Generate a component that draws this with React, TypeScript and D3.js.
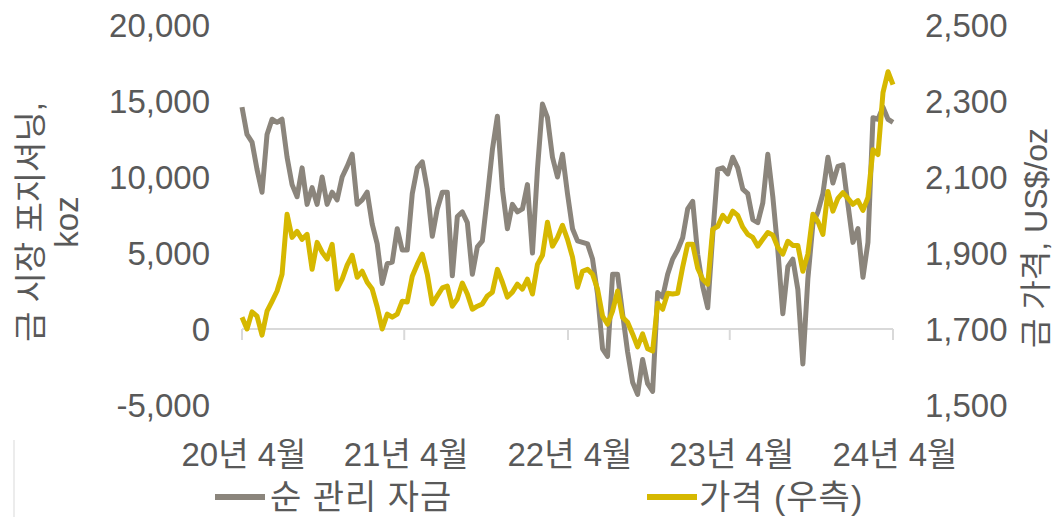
import React from 'react'
import * as d3 from 'd3'

// 순 관리 자금 (koz), 2020.04 ~ 2024.04, 일정 간격
const netManaged = [
  14600, 12800, 12300, 10500, 9000, 12800, 13800, 13600, 13800, 11300,
  9500, 8700, 10600, 8200, 9300, 8200, 10000, 8200, 9000, 8500,
  10000, 10700, 11500, 8200, 8500, 9000, 6900, 5600, 3000, 4300,
  4400, 6600, 5200, 5200, 8900, 10600, 11000, 9200, 6100, 7900,
  9000, 9000, 3500, 7400, 7700, 7000, 3600, 5400, 5800, 8700,
  11800, 14000, 9200, 6600, 8200, 7700, 7900, 9500, 5000, 10500,
  14800, 13900, 11300, 10000, 11500, 8900, 6600, 5800, 5700, 5600,
  4600, 2300, -1300, -1800, 3600, 3600, 1000, -1500, -3500, -4300,
  -2000, -3600, -4100, 2400, 2100, 3600, 4600, 5200, 6000, 7900,
  8400, 4900, 2800, 1400, 6200, 10500, 10600, 10200, 11300, 10600,
  9200, 8900, 7200, 7000, 8300, 11500, 8700, 5200, 1000, 4100,
  4600, 2600, -2300, 3300, 6900, 7700, 8900, 11300, 9600, 10700,
  10800, 8200, 5700, 6600, 3400, 5700, 13900, 13800, 14600, 13800,
  13600,
]

// 가격 (US$/oz, 우측)
const goldPrice = [
  1731, 1700, 1745, 1734, 1684, 1747, 1773, 1800, 1844, 2002,
  1941, 1957, 1936, 1949, 1857, 1928, 1902, 1884, 1923, 1805,
  1831, 1868, 1894, 1836, 1852, 1823, 1805, 1758, 1700, 1739,
  1731, 1739, 1773, 1771, 1839, 1870, 1897, 1844, 1766, 1787,
  1808, 1813, 1760, 1779, 1821, 1792, 1752, 1760, 1766, 1787,
  1797, 1857, 1823, 1784, 1797, 1818, 1805, 1831, 1792, 1870,
  1894, 1981, 1918, 1941, 1973, 1936, 1889, 1810, 1852, 1857,
  1844, 1805, 1734, 1713, 1747, 1800, 1731, 1718, 1687, 1653,
  1687, 1648, 1642, 1768, 1752, 1794, 1792, 1794, 1863, 1923,
  1923, 1860, 1831, 1818, 1962, 1970, 1999, 1983, 2010, 1999,
  1968, 1949, 1941, 1918, 1936, 1954, 1947, 1915, 1897, 1931,
  1920, 1920, 1852, 1897, 2002, 1983, 1949, 2062, 2010, 2044,
  2059, 2044, 2028, 2038, 2012, 2046, 2172, 2159, 2322, 2377,
  2343,
]

const xTickIdx = [0, 32.4, 65.1, 97.4, 130]
const xTickLabels = ['20년 4월', '21년 4월', '22년 4월', '23년 4월', '24년 4월']
const leftTicks = [-5000, 0, 5000, 10000, 15000, 20000]
const rightTicks = [1500, 1700, 1900, 2100, 2300, 2500]

const W = 1054
const H = 517
const plot = { left: 242, right: 893, top: 25, bottom: 405 }
const FONT = '"Liberation Sans", Arial, "Noto Sans CJK KR", sans-serif'
const TXT = '#595959'
const GRAY = '#8b857c'
const GOLD = '#d6b800'

export default function App() {
  const x = d3.scaleLinear().domain([0, netManaged.length - 1]).range([plot.left, plot.right])
  const yL = d3.scaleLinear().domain([-5000, 20000]).range([plot.bottom, plot.top])
  const yR = d3.scaleLinear().domain([1500, 2500]).range([plot.bottom, plot.top])
  // 하이픈 마이너스 사용
  const fmt = (v: number) => d3.format(',')(v).replace('\u2212', '-')

  const grayLine = d3.line<number>().x((_, i) => x(i)).y(d => yL(d))
  const goldLine = d3.line<number>().x((_, i) => x(i)).y(d => yR(d))
  const y0 = yL(0)

  return (
    <svg width={W} height={H} style={{ position: 'absolute', left: 0, top: 0, background: '#fff' }}
      fontFamily={FONT}>
      {/* x 축 */}
      <line x1={plot.left} x2={plot.right} y1={y0} y2={y0} stroke="#d9d9d9" strokeWidth={2} />
      {xTickIdx.map((t, i) => (
        <g key={i}>
          <line x1={x(t)} x2={x(t)} y1={y0} y2={y0 + 11} stroke="#d9d9d9" strokeWidth={2} />
          <text x={x(t) + 2} y={466} textAnchor="middle" fontSize={33} fill={TXT}>{xTickLabels[i]}</text>
        </g>
      ))}

      {/* 좌측 축 */}
      {leftTicks.map(t => (
        <text key={t} x={210} y={yL(t)} dy="0.36em" textAnchor="end" fontSize={33} fill={TXT}>{fmt(t)}</text>
      ))}
      <text transform="translate(42,222) rotate(-90)" textAnchor="middle" fontSize={33} fill={TXT}>금 시장 포지셔닝,</text>
      <text transform="translate(78,222) rotate(-90)" textAnchor="middle" fontSize={33} fill={TXT}>koz</text>

      {/* 우측 축 */}
      {rightTicks.map(t => (
        <text key={t} x={925} y={yR(t)} dy="0.36em" textAnchor="start" fontSize={33} fill={TXT}>{fmt(t)}</text>
      ))}
      <text transform="translate(1047,238) rotate(-90)" textAnchor="middle" fontSize={32} fill={TXT}>금 가격, US$/oz</text>

      {/* 시리즈 */}
      <path d={grayLine(netManaged) ?? ''} fill="none" stroke={GRAY} strokeWidth={5} strokeLinejoin="round" />
      <path d={goldLine(goldPrice) ?? ''} fill="none" stroke={GOLD} strokeWidth={5} strokeLinejoin="round" />

      {/* 범례 */}
      <line x1={215} x2={265} y1={497} y2={497} stroke={GRAY} strokeWidth={6} />
      <text x={270} y={509} fontSize={34} letterSpacing={1} fill={TXT}>순 관리 자금</text>
      <line x1={647} x2={697} y1={497} y2={497} stroke={GOLD} strokeWidth={6} />
      <text x={699} y={509} fontSize={34} letterSpacing={1} fill={TXT}>가격 (우측)</text>

      <line x1={14} x2={14} y1={440} y2={517} stroke="#d9d9d9" strokeWidth={1} />
    </svg>
  )
}
